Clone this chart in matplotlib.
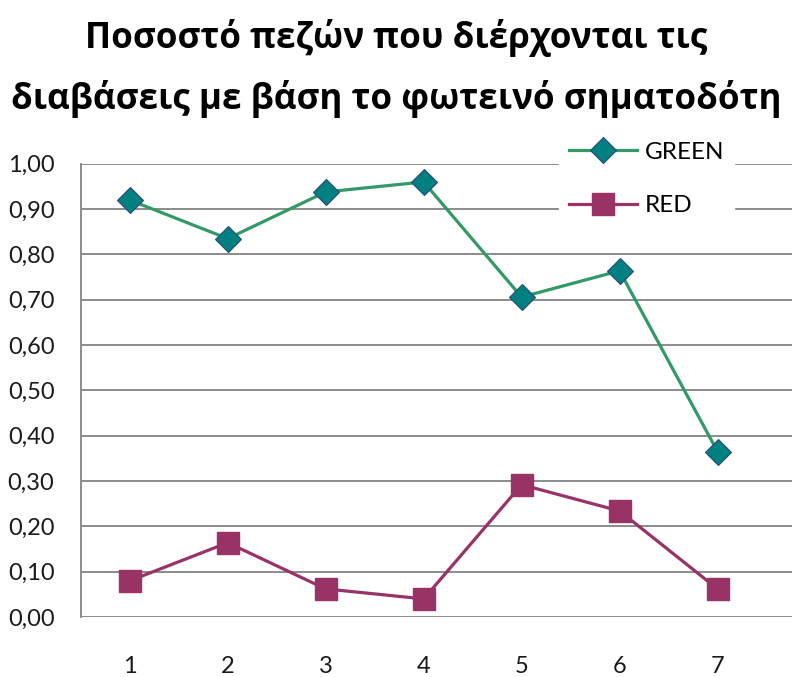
import matplotlib
matplotlib.use('Agg')
import matplotlib.pyplot as plt
from matplotlib.ticker import FuncFormatter

# values
crossings = [1, 2, 3, 4, 5, 6, 7]
green = [0.92, 0.835, 0.938, 0.96, 0.706, 0.764, 0.365]
red = [0.08, 0.164, 0.062, 0.04, 0.292, 0.234, 0.062]
title = 'Ποσοστό πεζών που διέρχονται τις\nδιαβάσεις με βάση το φωτεινό σηματοδότη'

plt.rcParams['font.family'] = ['Lato', 'Noto Sans', 'DejaVu Sans']

fig = plt.figure(figsize=(7.92, 6.77), dpi=100)
ax = fig.add_axes([0.102, 0.0886, 0.898, 0.6694])

ax.plot(crossings, green, color='#339966', lw=2.3, marker='D', ms=13,
        mfc='#008080', mec='#2b4a78', mew=0.8, label='GREEN', zorder=3)
ax.plot(crossings, red, color='#993366', lw=2.3, marker='s', ms=16,
        mfc='#993366', mec='#993366', label='RED', zorder=3)

ax.set_xlim(0.5, 7.76)
ax.set_ylim(0, 1.0)
ax.set_yticks([i / 10 for i in range(11)])
ax.yaxis.set_major_formatter(FuncFormatter(lambda v, p: f'{v:.2f}'.replace('.', ',')))
ax.set_xticks(crossings)

ax.grid(axis='y', color='#8c8c8c', lw=1.4)
ax.set_axisbelow(True)
for s in ['top', 'right', 'bottom']:
    ax.spines[s].set_visible(False)
ax.spines['left'].set_color('#8c8c8c')
ax.spines['left'].set_linewidth(1.4)
ax.tick_params(length=0, labelsize=17, colors='#1a1a1a')
ax.tick_params(axis='y', pad=19)
ax.tick_params(axis='x', pad=28)

leg = ax.legend(loc='upper left', bbox_to_anchor=(0.655, 1.097), fontsize=17.5,
                frameon=True, fancybox=False, edgecolor='white', facecolor='white',
                framealpha=1, handlelength=2.8, handletextpad=0.35,
                labelspacing=1.34, borderpad=0.4)

fig.text(0.5, 0.899, title, ha='center', va='center', fontsize=25.2,
         fontweight='bold', family=['Open Sans', 'DejaVu Sans'], linespacing=1.8)

fig.savefig('out.png', dpi=100)
